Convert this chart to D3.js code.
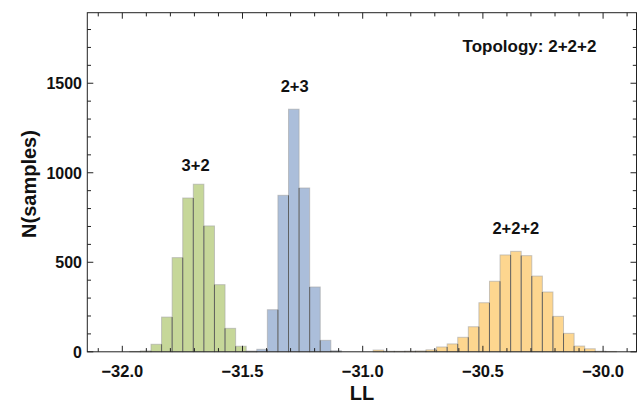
<!DOCTYPE html>
<html>
<head>
<meta charset="utf-8">
<script src="https://cdn.jsdelivr.net/npm/d3@7/dist/d3.min.js"></script>
<style>
  body { margin: 0; background: #fff; }
  svg text { font-family: "Liberation Sans", Arial, sans-serif; font-weight: bold; fill: #111; }
</style>
</head>
<body>
<div id="chart"></div>
<script>
  // bins shared by all three histograms
  var binWidth = 0.044;

  // 3+2 topology
  var greenStart = -31.9686;
  var greenCounts = [2, 5, 42, 194, 526, 859, 936, 703, 375, 131, 31, 3];

  // 2+3 topology
  var blueStart = -31.4846;
  var blueCounts = [3, 14, 235, 874, 1355, 915, 362, 64, 6];

  // 2+2+2 topology
  var orangeStart = -30.9566;
  var orangeCounts = [10, 3, 3, 4, 5, 11, 27, 44, 81, 140, 274, 394, 541, 561, 537, 423, 334, 198, 103, 32, 17, 3, 2];

  var labels = [
    { text: '3+2', x: -31.695, y: 1010 },
    { text: '2+3', x: -31.283, y: 1450 },
    { text: '2+2+2', x: -30.363, y: 660 }
  ];

  var WIDTH = 643, HEIGHT = 406;
  var FRAME = { LEFT: 87.3, RIGHT: 636.5, TOP: 12.7, BOTTOM: 351.8 };

  var x = d3.scaleLinear().domain([-32.1456, -29.861]).range([FRAME.LEFT, FRAME.RIGHT]);
  var y = d3.scaleLinear().domain([0, 1894]).range([FRAME.BOTTOM, FRAME.TOP]);

  var svg = d3.select('#chart').append('svg')
    .attr('width', WIDTH)
    .attr('height', HEIGHT);

  function series(start, counts) {
    return counts.map(function(c, i) {
      return { x0: start + i * binWidth, x1: start + (i + 1) * binWidth, n: c };
    });
  }

  function drawHist(data, fill) {
    var g = svg.append('g');
    g.selectAll('rect')
      .data(data)
      .enter().append('rect')
      .attr('x', function(d) { return x(d.x0); })
      .attr('width', function(d) { return x(d.x1) - x(d.x0); })
      .attr('y', function(d) { return y(d.n); })
      .attr('height', function(d) { return y(0) - y(d.n); })
      .style('fill', fill)
      .style('stroke', 'rgba(165,165,165,0.6)')
      .style('stroke-width', 1);

    // darker edge where two bars touch
    g.selectAll('line.edge')
      .data(data.slice(1))
      .enter().append('line')
      .attr('class', 'edge')
      .attr('x1', function(d) { return x(d.x0); })
      .attr('x2', function(d) { return x(d.x0); })
      .attr('y1', y(0))
      .attr('y2', function(d, i) { return y(Math.min(d.n, data[i].n)); })
      .style('stroke', 'rgba(45,45,45,0.6)')
      .style('stroke-width', 1);
  }

  drawHist(series(greenStart, greenCounts), '#c6d799');
  drawHist(series(blueStart, blueCounts), '#abbeda');
  drawHist(series(orangeStart, orangeCounts), '#fdd68f');

  // frame
  svg.append('rect')
    .attr('x', FRAME.LEFT)
    .attr('y', FRAME.TOP)
    .attr('width', FRAME.RIGHT - FRAME.LEFT)
    .attr('height', FRAME.BOTTOM - FRAME.TOP)
    .style('fill', 'none')
    .style('stroke', '#222')
    .style('stroke-width', 1);

  var xMajor = x.ticks(5), xMinor = x.ticks(25);
  var yMajor = y.ticks(4), yMinor = y.ticks(20);

  var ticks = svg.append('g').style('stroke', '#222').style('stroke-width', 1);
  xMinor.forEach(function(t) {
    var len = xMajor.some(function(m) { return Math.abs(m - t) < 1e-6; }) ? 6 : 3.7;
    ticks.append('line').attr('x1', x(t)).attr('x2', x(t)).attr('y1', FRAME.BOTTOM).attr('y2', FRAME.BOTTOM - len);
    ticks.append('line').attr('x1', x(t)).attr('x2', x(t)).attr('y1', FRAME.TOP).attr('y2', FRAME.TOP + len);
  });
  yMinor.forEach(function(t) {
    if (y(t) < FRAME.TOP) return;
    var len = yMajor.indexOf(t) >= 0 ? 6 : 3.7;
    ticks.append('line').attr('y1', y(t)).attr('y2', y(t)).attr('x1', FRAME.LEFT).attr('x2', FRAME.LEFT + len);
    ticks.append('line').attr('y1', y(t)).attr('y2', y(t)).attr('x1', FRAME.RIGHT).attr('x2', FRAME.RIGHT - len);
  });

  var fmtX = d3.format('.1f');
  svg.selectAll('.xlab')
    .data(xMajor)
    .enter().append('text')
    .attr('class', 'xlab')
    .attr('x', function(d) { return x(d); })
    .attr('y', 377)
    .attr('text-anchor', 'middle')
    .style('font-size', '16.5px')
    .text(function(d) { return fmtX(d); });

  svg.selectAll('.ylab')
    .data(yMajor)
    .enter().append('text')
    .attr('class', 'ylab')
    .attr('x', 82)
    .attr('y', function(d) { return y(d) + 5.8; })
    .attr('text-anchor', 'end')
    .style('font-size', '16px')
    .text(function(d) { return d; });

  svg.append('text')
    .attr('x', 362)
    .attr('y', 400)
    .attr('text-anchor', 'middle')
    .style('font-size', '20px')
    .text('LL');

  svg.append('text')
    .attr('transform', 'translate(36,184) rotate(-90)')
    .attr('text-anchor', 'middle')
    .style('font-size', '20px')
    .text('N(samples)');

  svg.selectAll('.note')
    .data(labels)
    .enter().append('text')
    .attr('class', 'note')
    .attr('x', function(d) { return x(d.x); })
    .attr('y', function(d) { return y(d.y); })
    .attr('text-anchor', 'middle')
    .style('font-size', '16.5px')
    .text(function(d) { return d.text; });

  svg.append('text')
    .attr('x', 529.5)
    .attr('y', 52)
    .attr('text-anchor', 'middle')
    .style('font-size', '17px')
    .text('Topology: 2+2+2');
</script>
</body>
</html>
